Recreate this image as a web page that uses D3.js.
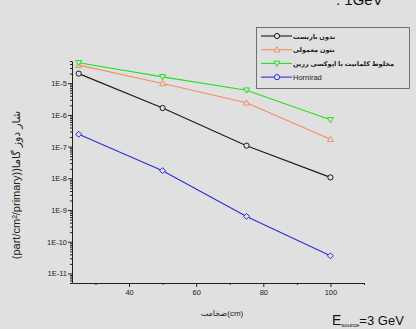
<!DOCTYPE html>
<html><head><meta charset="utf-8">
<script src="https://cdn.jsdelivr.net/npm/d3@7"></script>
<style>
html,body{margin:0;padding:0;background:#e0e0e0;}
svg{display:block;}
text{font-family:"Liberation Sans",Arial,"DejaVu Sans",sans-serif;}
</style></head>
<body><svg id="c" width="416" height="329"></svg>
<script>
const thickness = [25, 50, 75, 100];
const seriesNames = ["بدون بازیست", "بتون معمولی", "مخلوط کلمانیت با اپوکسی رزین", "Hornirad"];
const seriesNone = [2.0e-5, 1.65e-6, 1.07e-7, 1.07e-8];
const seriesConcrete = [3.7e-5, 9.8e-6, 2.4e-6, 1.7e-7];
const seriesColemanite = [4.4e-5, 1.58e-5, 6.0e-6, 7.0e-7];
const seriesHornirad = [2.45e-7, 1.74e-8, 6.3e-10, 3.6e-11];
const yTickValues = [1e-5, 1e-6, 1e-7, 1e-8, 1e-9, 1e-10, 1e-11];
const yTickLabels = ["1E-5", "1E-6", "1E-7", "1E-8", "1E-9", "1E-10", "1E-11"];
const xTickValues = [40, 60, 80, 100];
const xMinorTicks = [30, 50, 70, 90, 110];

const colors = ["#1a1a1a", "#ef8e66", "#22e022", "#2a2ae6"];
const markers = ["circle", "triangle", "itriangle", "diamond"];
const legendMarkers = ["circle", "triangle", "itriangle", "circle"];
const allSeries = [seriesNone, seriesConcrete, seriesColemanite, seriesHornirad];

const svg = d3.select("#c");
const x = d3.scaleLinear().domain([23, 110]).range([72, 364]);
const y = d3.scaleLog().domain([5e-12, 5e-5]).range([283, 61]);

const minor = [];
for (let e = -12; e <= -5; e++) for (let m = 2; m <= 9; m++) {
  const v = m * Math.pow(10, e);
  if (v >= 5e-12 && v <= 5e-5) minor.push(v);
}
const gyMinor = svg.append("g").attr("transform", "translate(72,0)")
  .call(d3.axisLeft(y).tickValues(minor).tickSize(2).tickFormat(""));
gyMinor.select(".domain").remove();
gyMinor.selectAll("line").attr("stroke", "#222");

const gy = svg.append("g").attr("transform", "translate(72,0)")
  .call(d3.axisLeft(y).tickValues(yTickValues).tickSize(4).tickSizeOuter(0)
    .tickFormat((d, i) => yTickLabels[i]));
gy.select(".domain").attr("stroke", "#222");
gy.selectAll("line").attr("stroke", "#222");
gy.selectAll("text").attr("font-size", 7.5).attr("fill", "#222").attr("x", -5);

const gxMinor = svg.append("g").attr("transform", "translate(0,283)")
  .call(d3.axisBottom(x).tickValues(xMinorTicks).tickSize(2).tickFormat(""));
gxMinor.select(".domain").remove();
gxMinor.selectAll("line").attr("stroke", "#222");

const gx = svg.append("g").attr("transform", "translate(0,283)")
  .call(d3.axisBottom(x).tickValues(xTickValues).tickSize(4).tickSizeOuter(0));
gx.select(".domain").attr("stroke", "#222");
gx.selectAll("line").attr("stroke", "#222");
gx.selectAll("text").attr("font-size", 7.5).attr("fill", "#222").attr("y", 7);

function markerPath(type, cx, cy) {
  const s = 3;
  if (type === "triangle") return `M${cx},${cy - s}L${cx + s},${cy + s * 0.75}L${cx - s},${cy + s * 0.75}Z`;
  if (type === "itriangle") return `M${cx},${cy + s}L${cx + s},${cy - s * 0.75}L${cx - s},${cy - s * 0.75}Z`;
  if (type === "diamond") return `M${cx},${cy - s}L${cx + s},${cy}L${cx},${cy + s}L${cx - s},${cy}Z`;
  return null;
}
function drawMarker(g, type, cx, cy, color) {
  if (type === "circle") {
    g.append("circle").attr("cx", cx).attr("cy", cy).attr("r", 2.6)
      .attr("fill", "#e0e0e0").attr("stroke", color).attr("stroke-width", 1);
  } else {
    g.append("path").attr("d", markerPath(type, cx, cy))
      .attr("fill", "#e0e0e0").attr("stroke", color).attr("stroke-width", 1);
  }
}

const line = d3.line().x((d, i) => x(thickness[i])).y(d => y(d));
allSeries.forEach((s, k) => {
  const g = svg.append("g");
  g.append("path").attr("d", line(s)).attr("fill", "none")
    .attr("stroke", colors[k]).attr("stroke-width", 1.1);
  s.forEach((v, i) => drawMarker(g, markers[k], x(thickness[i]), y(v), colors[k]));
});

const lg = svg.append("g");
lg.append("rect").attr("x", 256.5).attr("y", 27.5).attr("width", 153).attr("height", 61)
  .attr("fill", "#e0e0e0").attr("stroke", "#555").attr("stroke-width", 0.8);
seriesNames.forEach((n, k) => {
  const ly = 36 + k * 13.7;
  lg.append("line").attr("x1", 261).attr("x2", 292).attr("y1", ly).attr("y2", ly)
    .attr("stroke", colors[k]).attr("stroke-width", 1.1);
  drawMarker(lg, legendMarkers[k], 277, ly, colors[k]);
  lg.append("text").attr("x", 293).attr("y", ly + 2.5)
    .attr("font-size", k === 3 ? 7.5 : 6.5).attr("font-weight", k === 3 ? "normal" : "bold").attr("fill", "#222")
    .attr("direction", "ltr")
    .text(n);
});

svg.append("text").attr("transform", "translate(20,185) rotate(-90)")
  .attr("text-anchor", "middle").attr("font-size", 11).attr("fill", "#222")
  .attr("direction", "ltr")
  .text("(part/cm²/primary))شار دوز گاما");

svg.append("text").attr("x", 222).attr("y", 316).attr("text-anchor", "middle")
  .attr("font-size", 8).attr("fill", "#222").attr("direction", "ltr")
  .text("ضخامت(cm)");

const et = svg.append("text").attr("x", 332).attr("y", 325).attr("fill", "#111");
et.append("tspan").attr("font-size", 14).text("E");
et.append("tspan").attr("font-size", 6).attr("dy", 2).text("source");
et.append("tspan").attr("font-size", 13).attr("dy", -2).text("=3 GeV");

svg.append("text").attr("x", 336).attr("y", 5).attr("font-size", 15).attr("fill", "#111")
  .text(". 1GeV");
</script></body></html>
